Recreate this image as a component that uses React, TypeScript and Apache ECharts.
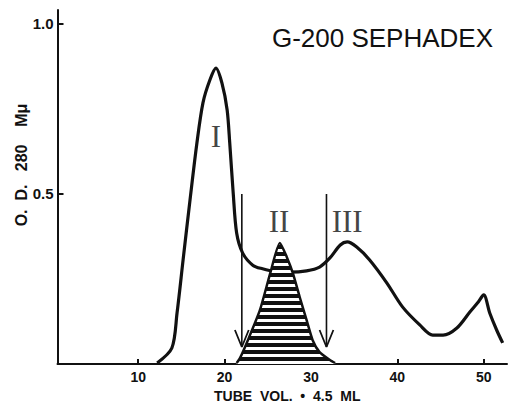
import React, { useEffect, useRef } from 'react';
import * as echarts from 'echarts';

// Main elution curve (tube number vs O.D. 280 mμ)
const tubeX = [12.2, 13.9, 14.5, 15.2, 16.0, 16.8, 17.5, 18.3, 19.0, 19.7, 20.3, 20.6, 21.0, 21.4, 22.1, 23.3, 24.4, 25.8, 27.6, 29.5, 31.0, 32.2, 33.4, 34.2, 35.3, 36.8, 38.8, 40.6, 42.6, 44.1, 45.3, 46.9, 48.4, 49.3, 50.0, 50.7, 51.5, 52.2];
const odY = [0.003, 0.047, 0.15, 0.306, 0.482, 0.65, 0.768, 0.835, 0.87, 0.826, 0.747, 0.65, 0.503, 0.385, 0.326, 0.29, 0.28, 0.272, 0.27, 0.274, 0.285, 0.312, 0.35, 0.359, 0.344, 0.306, 0.238, 0.168, 0.115, 0.085, 0.085, 0.106, 0.153, 0.18, 0.203, 0.15, 0.1, 0.062];

// Hatched peak II
const peak2X = [21.4, 21.8, 22.7, 24.1, 25.3, 26.4, 27.2, 27.9, 28.7, 29.5, 30.2, 31.0, 32.2, 32.8];
const peak2Y = [0.003, 0.018, 0.07, 0.159, 0.268, 0.356, 0.315, 0.268, 0.197, 0.129, 0.07, 0.035, 0.012, 0.003];

// Arrows marking the pooled fraction
const arrowX = [22.0, 31.8];
const arrowTop = 0.5;
const arrowTip = 0.05;

// Peak labels
const peakLabels = ['I', 'II', 'III'];
const peakLabelX = [19.0, 26.3, 34.2];
const peakLabelY = [0.668, 0.42, 0.418];

// Axis ticks
const xTicks = [10, 20, 30, 40, 50];
const yTicks = [0.5, 1.0];

const INK = '#111';

export default function App() {
  const ref = useRef<HTMLDivElement>(null);

  useEffect(() => {
    if (!ref.current) return;
    const chart = echarts.init(ref.current, undefined, { renderer: 'svg' });

    const cv = document.createElement('canvas');
    cv.width = 8;
    cv.height = 7;
    const ctx = cv.getContext('2d')!;
    ctx.fillStyle = INK;
    ctx.fillRect(0, 0, 8, 7);
    ctx.fillStyle = '#fff';
    ctx.fillRect(0, 4, 8, 3);

    const headW = 0.8;
    const headH = 0.05;

    const arrowSeries: any[] = [];
    arrowX.forEach((ax) => {
      arrowSeries.push({
        type: 'line',
        data: [[ax, arrowTop], [ax, arrowTip]],
        symbol: 'none',
        lineStyle: { color: INK, width: 1.6 },
        z: 4,
        silent: true,
      });
      arrowSeries.push({
        type: 'line',
        data: [[ax - headW, arrowTip + headH], [ax, arrowTip], [ax + headW, arrowTip + headH]],
        symbol: 'none',
        lineStyle: { color: INK, width: 1.8 },
        z: 4,
        silent: true,
      });
    });

    chart.setOption({
      animation: false,
      backgroundColor: '#fff',
      color: [INK],
      grid: { left: 57.5, right: 2, top: 10, bottom: 39, containLabel: false, outerBoundsMode: 'none' },
      xAxis: {
        type: 'value',
        min: 0.66,
        max: 52.7,
        axisLine: { onZero: false, lineStyle: { color: INK, width: 2 } },
        axisTick: { inside: true, length: 5, customValues: xTicks, lineStyle: { color: INK, width: 2 } },
        axisLabel: {
          customValues: xTicks,
          fontSize: 14,
          fontWeight: 'bold',
          color: INK,
          fontFamily: 'Liberation Sans',
          margin: 6,
        },
        splitLine: { show: false },
        name: 'TUBE  VOL.  •  4.5  ML',
        nameLocation: 'middle',
        nameGap: 24,
        nameTextStyle: {
          fontSize: 14,
          fontWeight: 'bold',
          color: INK,
          fontFamily: 'Liberation Sans',
          padding: [0, 0, 0, 10],
        },
      },
      yAxis: {
        type: 'value',
        min: 0,
        max: 1.041,
        axisLine: { show: true, lineStyle: { color: INK, width: 2 } },
        axisTick: { show: true, inside: true, length: 6, customValues: yTicks, lineStyle: { color: INK, width: 2 } },
        axisLabel: {
          customValues: yTicks,
          formatter: (v: number) => v.toFixed(1),
          fontSize: 15,
          fontWeight: 'bold',
          color: INK,
          fontFamily: 'Liberation Sans',
          margin: 4,
        },
        splitLine: { show: false },
      },
      graphic: [
        {
          type: 'text',
          x: 493,
          y: 38,
          style: {
            text: 'G-200 SEPHADEX',
            fontSize: 26,
            fontFamily: 'Liberation Sans',
            fill: INK,
            align: 'right',
            verticalAlign: 'middle',
          },
        },
        {
          type: 'text',
          x: 21,
          y: 165,
          rotation: Math.PI / 2,
          style: {
            text: 'O.  D.   280    Mμ',
            fontSize: 16,
            fontWeight: 'bold',
            fontFamily: 'Liberation Sans',
            fill: INK,
            align: 'center',
            verticalAlign: 'middle',
          },
        },
      ],
      series: [
        {
          type: 'line',
          data: tubeX.map((x, i) => [x, odY[i]]),
          symbol: 'none',
          smooth: 0.3,
          lineStyle: { color: INK, width: 3.2 },
          z: 2,
          silent: true,
        },
        {
          type: 'line',
          data: peak2X.map((x, i) => [x, peak2Y[i]]),
          symbol: 'none',
          smooth: 0.2,
          lineStyle: { color: INK, width: 2.5 },
          areaStyle: { color: { image: cv, repeat: 'repeat' } as any, opacity: 1 },
          z: 3,
          silent: true,
        },
        ...arrowSeries,
        {
          type: 'scatter',
          data: peakLabels.map((n, i) => ({ name: n, value: [peakLabelX[i], peakLabelY[i]] })),
          symbolSize: 0,
          itemStyle: { color: INK },
          label: {
            show: true,
            position: 'inside',
            formatter: '{b}',
            fontFamily: 'Liberation Serif',
            fontSize: 31,
            color: INK,
            textBorderWidth: 0,
          },
          z: 5,
          silent: true,
        },
      ],
    });

    return () => chart.dispose();
  }, []);

  return (
    <div
      ref={ref}
      style={{ position: 'fixed', left: 0, top: 0, width: 509, height: 403, background: '#fff' }}
    />
  );
}
